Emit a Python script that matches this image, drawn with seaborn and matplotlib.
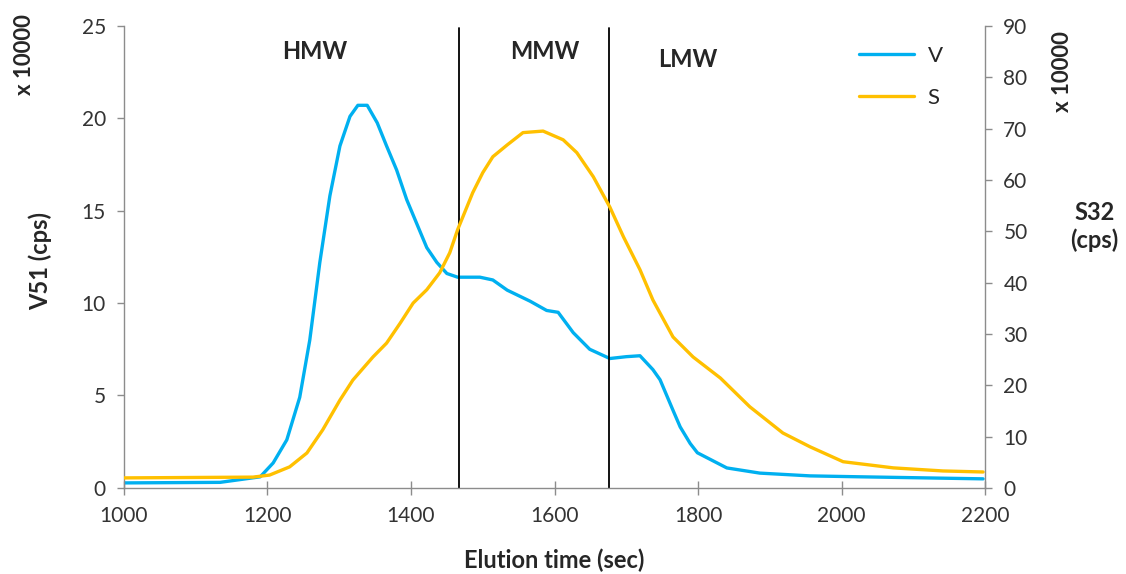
import matplotlib
matplotlib.use("Agg")
import matplotlib.pyplot as plt
import seaborn as sns
import pandas as pd

# V51 signal (x 10000 cps)
time_v = [1000, 1134, 1190, 1208, 1227, 1245, 1259, 1273, 1287, 1301, 1315, 1326, 1339,
          1353, 1366, 1380, 1394, 1408, 1422, 1436, 1450, 1465, 1480, 1496, 1514, 1534,
          1566, 1589, 1605, 1626, 1649, 1677, 1700, 1719, 1737, 1747, 1765, 1775, 1789,
          1799, 1840, 1886, 1956, 2026, 2119, 2197]
v_vals = [0.27, 0.3, 0.6, 1.35, 2.6, 4.9, 8.0, 12.2, 15.8, 18.5, 20.1, 20.7, 20.7,
          19.75, 18.5, 17.2, 15.6, 14.3, 13.0, 12.2, 11.6, 11.4, 11.4, 11.4, 11.25, 10.7,
          10.1, 9.6, 9.5, 8.4, 7.5, 7.0, 7.1, 7.15, 6.4, 5.85, 4.2, 3.3, 2.4,
          1.9, 1.08, 0.8, 0.65, 0.6, 0.54, 0.49]

# S32 signal (x 10000 cps)
time_s = [1000, 1180, 1203, 1231, 1255, 1277, 1301, 1319, 1347, 1366, 1385, 1403, 1422,
          1440, 1454, 1465, 1486, 1500, 1514, 1534, 1556, 1584, 1612, 1631, 1654, 1677,
          1696, 1719, 1737, 1765, 1793, 1831, 1872, 1918, 1956, 2002, 2072, 2141, 2197]
s_vals = [1.95, 2.1, 2.5, 4.1, 6.8, 11.3, 17.1, 21.0, 25.5, 28.2, 32.1, 36.0, 38.6,
          41.9, 45.8, 50.3, 57.5, 61.4, 64.5, 66.8, 69.2, 69.5, 67.8, 65.3, 60.6, 54.7,
          48.9, 42.5, 36.6, 29.4, 25.5, 21.4, 15.8, 10.7, 8.0, 5.1, 3.9, 3.3, 3.1]

fractions = ["HMW", "MMW", "LMW"]
frac_x = [1266, 1587, 1786]
frac_y = [23.6, 23.6, 23.2]
boundaries = [1467, 1676]

x_ticks = [1000, 1200, 1400, 1600, 1800, 2000, 2200]
left_ticks = [0, 5, 10, 15, 20, 25]
right_ticks = [0, 10, 20, 30, 40, 50, 60, 70, 80, 90]

sns.set_style("white")
plt.rcParams['font.family'] = ['Lato', 'DejaVu Sans']

BLUE = "#00B0F0"
ORANGE = "#FFC000"
GRAY = "#8C8C8C"

fig = plt.figure(figsize=(11.26, 5.74), dpi=100)
ax = fig.add_axes([0.110, 0.150, 0.765, 0.805])
ax2 = ax.twinx()

dfv = pd.DataFrame({"t": time_v, "val": v_vals})
dfs = pd.DataFrame({"t": time_s, "val": s_vals})
sns.lineplot(data=dfv, x="t", y="val", ax=ax, color=BLUE, lw=2.4, label="V", legend=False)
sns.lineplot(data=dfs, x="t", y="val", ax=ax2, color=ORANGE, lw=2.4, label="S", legend=False)

for b in boundaries:
    ax.axvline(b, color="black", lw=1.3, ymax=0.995)

ax.set_xlim(1000, 2200)
ax.set_ylim(0, 25)
ax2.set_ylim(0, 90)
ax.set_xticks(x_ticks)
ax.set_yticks(left_ticks)
ax2.set_yticks(right_ticks)
ax.set_xlabel("Elution time (sec)", fontsize=17, fontweight="bold", labelpad=16)
ax.set_ylabel("")
ax2.set_ylabel("")

for a in (ax, ax2):
    for s in a.spines.values():
        s.set_visible(False)
ax.spines["left"].set_visible(True)
ax.spines["bottom"].set_visible(True)
ax2.spines["right"].set_visible(True)
for sp in (ax.spines["left"], ax.spines["bottom"], ax2.spines["right"]):
    sp.set_color(GRAY)
    sp.set_linewidth(1.0)

ax.tick_params(axis="x", direction="inout", length=10, width=1, color=GRAY,
               labelsize=15, labelcolor="#333333", pad=8, bottom=True)
ax.tick_params(axis="y", direction="out", length=5, width=1, color=GRAY,
               labelsize=15, labelcolor="#333333", pad=8, left=True)
ax2.tick_params(axis="y", direction="out", length=5, width=1, color=GRAY,
                labelsize=15, labelcolor="#333333", pad=8, right=True)

for name, x, y in zip(fractions, frac_x, frac_y):
    ax.text(x, y, name, fontsize=17, fontweight="bold", ha="center", va="center")

# axis titles
fig.text(0.036, 0.545, "V51 (cps)", rotation=90, fontsize=17, fontweight="bold",
         ha="center", va="center")
fig.text(0.022, 0.905, "x 10000", rotation=90, fontsize=16, fontweight="bold",
         ha="center", va="center")
fig.text(0.944, 0.875, "x 10000", rotation=90, fontsize=16, fontweight="bold",
         ha="center", va="center")
fig.text(0.972, 0.605, "S32\n(cps)", fontsize=17, fontweight="bold",
         ha="center", va="center", linespacing=1.2)

h1, l1 = ax.get_legend_handles_labels()
h2, l2 = ax2.get_legend_handles_labels()
ax2.legend(h1 + h2, l1 + l2, loc="upper left", bbox_to_anchor=(0.83, 1.0),
           frameon=False, fontsize=16, handlelength=2.5, handletextpad=0.6,
           labelspacing=1.0)

fig.savefig("out.png", dpi=100)
